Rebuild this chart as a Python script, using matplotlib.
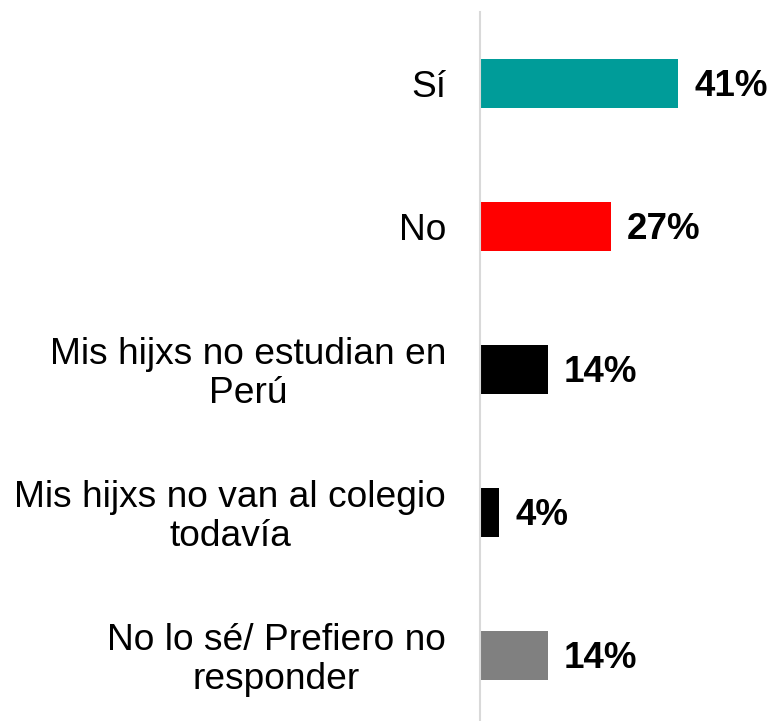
import matplotlib
matplotlib.use("Agg")
import matplotlib.pyplot as plt
from matplotlib.transforms import ScaledTranslation

categories = ["Sí", "No", "Mis hijxs no estudian en\nPerú",
              "Mis hijxs no van al colegio\ntodavía",
              "No lo sé/ Prefiero no\nresponder"]
values = [41, 27, 14, 4, 14]
value_labels = ["41%", "27%", "14%", "4%", "14%"]
colors = ["#009C99", "#FF0000", "#000000", "#000000", "#808080"]

plt.rcParams['font.family'] = ['Liberation Sans', 'DejaVu Sans']

fig = plt.figure(figsize=(7.75, 7.21), dpi=100)
ax = fig.add_axes([0.6194, -0.0089, 0.3806, 0.9925])

y = list(range(len(categories)))
ax.barh(y, values, height=0.342, color=colors)
ax.set_ylim(len(categories) - 0.5, -0.5)
ax.set_xlim(0, 61.0)

for s in ["top", "right", "bottom"]:
    ax.spines[s].set_visible(False)
ax.spines["left"].set_color("#D9D9D9")
ax.spines["left"].set_linewidth(1.5)
ax.set_xticks([])
ax.set_yticks([])

lab_off = ScaledTranslation(-34/100, -4/100, fig.dpi_scale_trans)
for yi, cat in zip(y, categories):
    ax.text(0, yi, cat, ha="right", va="center", multialignment="center",
            fontsize=26.7, linespacing=1.15, color="#000000",
            transform=ax.transData + lab_off)

val_off = ScaledTranslation(16/100, -3/100, fig.dpi_scale_trans)
for yi, v, lab in zip(y, values, value_labels):
    ax.text(v, yi, lab, ha="left", va="center", fontsize=26.5,
            fontweight="bold", color="#000000",
            transform=ax.transData + val_off)

fig.savefig("out.png", dpi=100)
